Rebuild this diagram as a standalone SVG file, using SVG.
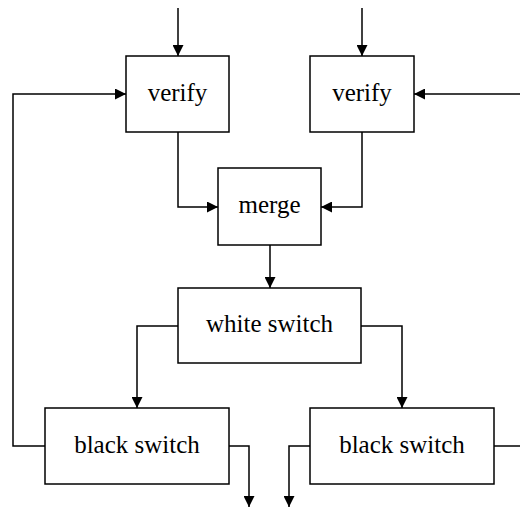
<svg xmlns="http://www.w3.org/2000/svg" width="520" height="509" viewBox="0 0 520 509">
<style>
.box{fill:#fff;stroke:#000;stroke-width:1.5}
.lbl{font-family:"Liberation Serif","Times New Roman",serif;font-size:25px;fill:#000;text-anchor:middle}
.con{fill:none;stroke:#000;stroke-width:1.5}
</style>
<defs>
<marker id="ah" markerUnits="userSpaceOnUse" markerWidth="11" markerHeight="11" refX="10" refY="5" orient="auto" viewBox="0 0 10 10">
<path d="M0,0 L10,5 L0,10 Z" fill="#000"/>
</marker>
</defs>
<g id="connectors">
<path class="con" d="M178,8 V56" marker-end="url(#ah)"/>
<path class="con" d="M362,8 V56" marker-end="url(#ah)"/>
<path class="con" d="M520,94 H414" marker-end="url(#ah)"/>
<path class="con" d="M45,446 H13 V94 H126" marker-end="url(#ah)"/>
<path class="con" d="M178,132 V207 H218" marker-end="url(#ah)"/>
<path class="con" d="M362,132 V207 H321" marker-end="url(#ah)"/>
<path class="con" d="M270,245 V288" marker-end="url(#ah)"/>
<path class="con" d="M178,326 H137 V408" marker-end="url(#ah)"/>
<path class="con" d="M361,326 H402 V408" marker-end="url(#ah)"/>
<path class="con" d="M229,446 H249 V507" marker-end="url(#ah)"/>
<path class="con" d="M310,446 H289 V507" marker-end="url(#ah)"/>
<path class="con" d="M494,446 H520"/>
</g>
<g id="verify1"><rect class="box" x="126" y="56" width="103" height="76"/><text class="lbl" x="177.5" y="101">verify</text></g>
<g id="verify2"><rect class="box" x="310" y="56" width="104" height="76"/><text class="lbl" x="362" y="101">verify</text></g>
<g id="merge"><rect class="box" x="218" y="168" width="103" height="77"/><text class="lbl" x="269.5" y="213">merge</text></g>
<g id="white-switch"><rect class="box" x="178" y="288" width="183" height="75"/><text class="lbl" x="269.5" y="332">white switch</text></g>
<g id="black-switch1"><rect class="box" x="45" y="408" width="184" height="76"/><text class="lbl" x="137" y="453">black switch</text></g>
<g id="black-switch2"><rect class="box" x="310" y="408" width="184" height="76"/><text class="lbl" x="402" y="453">black switch</text></g>
</svg>
